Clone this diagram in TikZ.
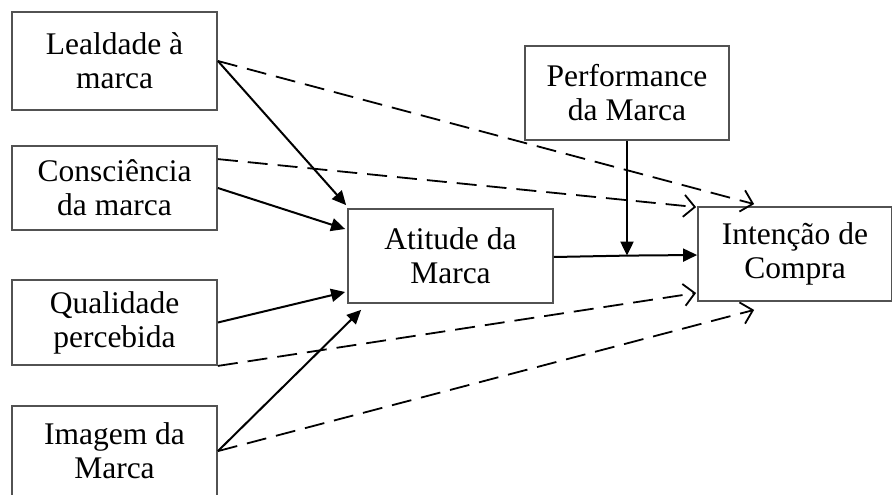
\documentclass[tikz,border=0pt]{standalone}
\usepackage{fontspec}
\setmainfont{Liberation Serif}
\usetikzlibrary{arrows.meta,calc}
\begin{document}
\begin{tikzpicture}[x=1pt,y=-1pt,
  box/.style={draw=black!68,line width=1.8pt,fill=white,inner sep=0pt,
    align=center,font=\fontsize{31.5}{34}\selectfont},
  solidarrow/.style={line width=2pt,-{Triangle[length=14pt,width=13pt]}},
  dasharrow/.style={line width=1.8pt,dash pattern=on 20pt off 10pt,
    -{Straight Barb[length=11pt,width=22pt,line width=1.8pt]}},
  link/.style={line width=2pt}]
\useasboundingbox (0,0) rectangle (892,495);

% factor boxes on the left
\node[box,minimum width=205pt,minimum height=98pt] (lea) at (114.5,61) {Lealdade à\\marca};
\node[box,minimum width=205pt,minimum height=84pt] (con) at (114.5,188) {Consciência\\da marca};
\node[box,minimum width=205pt,minimum height=85pt] (qua) at (114.5,322.5) {Qualidade\\percebida};
\node[box,minimum width=205pt,minimum height=100pt] (ima) at (114.5,456) {};
\node[font=\fontsize{31.5}{34}\selectfont,align=center] (imat) at (114.5,451) {Imagem da\\Marca};

% mediator, moderator and outcome
\node[box,minimum width=205pt,minimum height=94pt] (att) at (450.5,256) {Atitude da\\Marca};
\node[box,minimum width=204pt,minimum height=94pt] (per) at (627,93) {Performance\\da Marca};
\node[box,minimum width=194pt,minimum height=94pt] (int) at (795,254) {Intenção de\\Compra};

% direct effects (dashed)
\draw[dasharrow] (lea.east) -- ($(int.north west)+(57,-2)$);
\draw[dasharrow] ($(con.north east)+(0,14)$) -- ($(int.north west)+(-1,1)$);
\draw[dasharrow] (qua.south east) -- ($(int.west)+(-1,39)$);
\draw[dasharrow] ($(ima.north east)+(0,46)$) -- ($(int.south west)+(57,8)$);

% effects on brand attitude
\draw[solidarrow] (lea.east) -- ($(att.north west)+(-1,-3)$);
\draw[solidarrow] (con.east) -- ($(att.west)+(-2,-27)$);
\draw[solidarrow] (qua.east) -- ($(att.west)+(-2,36)$);
\draw[solidarrow] ($(ima.north east)+(0,46)$) -- ($(att.south west)+(14,6)$);

% attitude to intention, moderated by performance
\coordinate (mod) at (627,255.6);
\draw[link] ($(att.east)+(0,1)$) -- (mod);
\draw[solidarrow] (mod) -- ($(int.west)+(0,1)$);
\draw[solidarrow] (per.south) -- (mod);
\end{tikzpicture}
\end{document}
